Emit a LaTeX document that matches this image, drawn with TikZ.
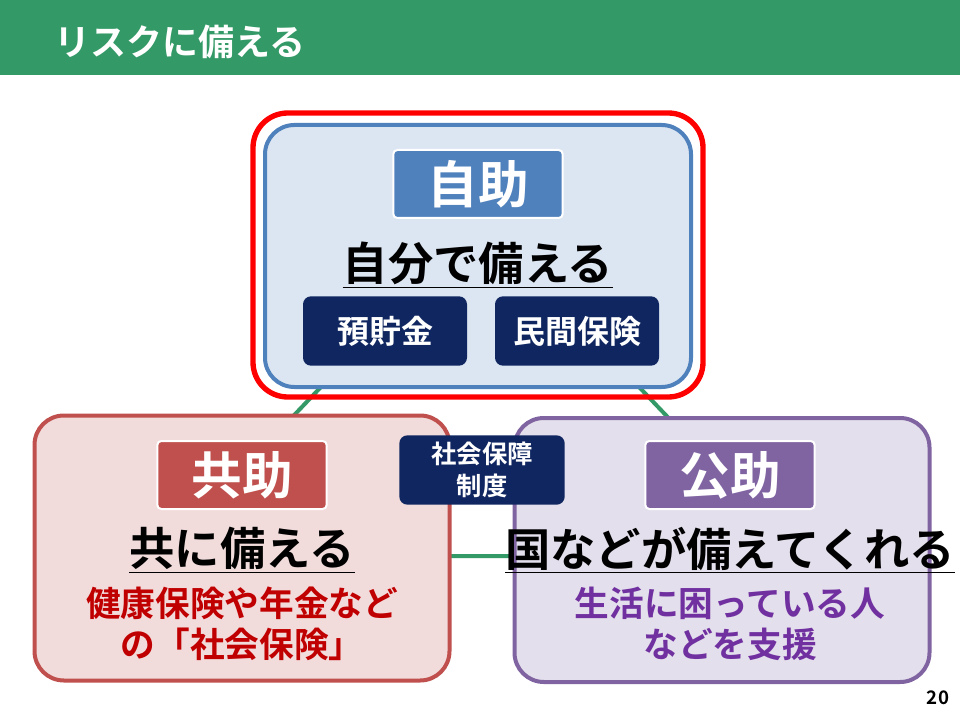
\documentclass[tikz,border=0pt]{standalone}
\usepackage{fontspec}
\setmainfont{Noto Sans CJK JP Bold}
\definecolor{hdr}{HTML}{339966}
\definecolor{navy}{HTML}{0F2660}
\definecolor{bluef}{HTML}{DCE6F2}\definecolor{blued}{HTML}{4F81BD}
\definecolor{redf}{HTML}{F2DCDB}\definecolor{redd}{HTML}{C0504D}
\definecolor{purf}{HTML}{E4DFEC}\definecolor{purd}{HTML}{8064A2}
\definecolor{txtred}{HTML}{C00000}\definecolor{txtpur}{HTML}{7030A0}
\newcommand{\fs}[2]{\fontsize{#1}{#2}\selectfont}
\tikzset{
 bigbox/.style={draw, line width=3pt, rounded corners=22pt},
 tag/.style={draw=white, line width=1.5pt, rounded corners=3pt, text=white, minimum width=127pt, minimum height=51pt, font=\fs{38}{44}},
 navybox/.style={fill=navy, rounded corners=6pt, text=white, minimum width=123pt, minimum height=52pt, font=\fs{24}{28}, align=center},
 conn/.style={draw=hdr, line width=3pt},
 head/.style={font=\fs{34}{40}, text=black},
 sub/.style={font=\fs{26}{31}, align=center}
}
\begin{document}
\begin{tikzpicture}[x=0.75pt,y=-0.75pt]
\useasboundingbox (0,0) rectangle (960,720);
\fill[white] (0,0) rectangle (960,720);
\fill[hdr] (0,0) rectangle (960,75);
\node[anchor=west, text=white, font=\fs{27}{32}] (title) at (50,42) {リスクに備える};
\coordinate (ct) at (480,220);
\coordinate (cl) at (160,556);
\coordinate (cr) at (800,556);
\draw[conn] (ct) -- (cl) -- (cr) -- cycle;
% top
\node[bigbox, draw=red, line width=4pt, minimum width=450*0.75pt, minimum height=284*0.75pt, rounded corners=26pt] (outer) at (478,255) {};
\node[bigbox, draw=blued, fill=bluef, minimum width=426*0.75pt, minimum height=262*0.75pt] (top) at (478,256) {};
\node[tag, fill=blued] (jijo) at (478,184) {自助};
\node[head] (jh) at (478,265) {\underline{自分で備える}};
\node[navybox] (yo) at (385,331) {預貯金};
\node[navybox] (mi) at (577,331) {民間保険};
% left
\node[bigbox, draw=redd, fill=redf, minimum width=415*0.75pt, minimum height=265*0.75pt] (left) at (242,548) {};
\node[tag, fill=redd] (kyo) at (242,475) {共助};
\node[head] (kh) at (242,550) {\underline{共に備える}};
\node[sub, text=txtred] (ks) at (242,624) {健康保険や年金など\\の「社会保険」};
% right
\node[bigbox, draw=purd, fill=purf, minimum width=415*0.75pt, minimum height=264*0.75pt] (right) at (722,550) {};
\node[tag, fill=purd] (ko) at (730,475) {公助};
\node[head] (kh2) at (730,550) {\underline{国などが備えてくれる}};
\node[sub, text=txtpur] (ks2) at (730,624) {生活に困っている人\\などを支援};
% center
\node[navybox, minimum width=124pt, minimum height=52pt, font=\fs{19}{24}] (sh) at (482,470) {社会保障\\制度};
\node[font=\fs{14}{17}] (pg) at (938,698) {20};
\end{tikzpicture}
\end{document}
